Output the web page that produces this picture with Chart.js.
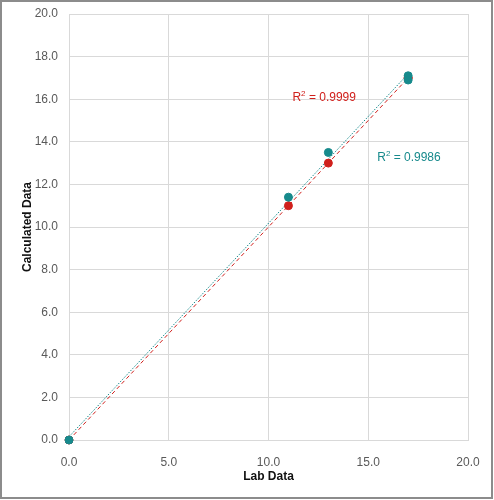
<!DOCTYPE html>
<html lang="en">

<head>
    <meta charset="UTF-8">
    <title>Lab Data vs Calculated Data</title>
    <style>
        body { margin: 0; background: #fff; }
        #wrap { width: 494px; height: 500px; }
    </style>
</head>

<body>
    <div id="wrap"><canvas id="myChart"></canvas></div>
    <script src="https://cdn.jsdelivr.net/npm/chart.js"></script>
    <script>
        // lab vs calculated values
        var labX = [0, 11, 13, 17, 17];
        var redY = [0, 11.0, 13.0, 17.0, 17.0];
        var tealY = [0, 11.4, 13.5, 17.1, 16.9];
        var redR2 = '0.9999';
        var tealR2 = '0.9986';
        var xTicks = [0, 5, 10, 15, 20];
        var yTicks = [0, 2, 4, 6, 8, 10, 12, 14, 16, 18, 20];

        var RED = '#d0201c';
        var TEAL = '#178a8c';

        function toPoints(xs, ys) {
            return xs.map(function (x, i) { return { x: x, y: ys[i] }; });
        }

        // least squares trendline, drawn from 0 to the last lab value
        function trend(xs, ys) {
            var n = xs.length, sx = 0, sy = 0, sxy = 0, sxx = 0;
            for (var i = 0; i < n; i++) {
                sx += xs[i]; sy += ys[i]; sxy += xs[i] * ys[i]; sxx += xs[i] * xs[i];
            }
            var m = (n * sxy - sx * sy) / (n * sxx - sx * sx);
            var b = (sy - m * sx) / n;
            var x1 = Math.max.apply(null, xs);
            return [{ x: 0, y: b }, { x: x1, y: m * x1 + b }];
        }

        // R² labels + outer frame
        var extras = {
            id: 'extras',
            afterDraw: function (chart) {
                var ctx = chart.ctx;
                var xs = chart.scales.x, ys = chart.scales.y;
                function r2(text, dx, dy, color) {
                    var px = xs.getPixelForValue(dx), py = ys.getPixelForValue(dy);
                    ctx.save();
                    ctx.fillStyle = color;
                    ctx.textBaseline = 'middle';
                    ctx.font = '12px "Liberation Sans"';
                    ctx.fillText('R', px, py);
                    var w = ctx.measureText('R').width;
                    ctx.font = '8px "Liberation Sans"';
                    ctx.fillText('2', px + w, py - 4);
                    var w2 = ctx.measureText('2').width;
                    ctx.font = '12px "Liberation Sans"';
                    ctx.fillText(' = ' + text, px + w + w2, py);
                    ctx.restore();
                }
                r2(redR2, 11.2, 16.05, RED);
                r2(tealR2, 15.45, 13.25, TEAL);

                ctx.save();
                ctx.strokeStyle = '#8c8c8c';
                ctx.lineWidth = 2;
                ctx.strokeRect(1, 1, 491, 497);
                ctx.restore();
            }
        };

        var ctx01 = document.getElementById('myChart');
        var mychart = new Chart(ctx01, {
            type: 'scatter',
            data: {
                datasets: [{
                    label: 'red trend',
                    type: 'line',
                    order: 3,
                    data: trend(labX, redY),
                    borderColor: RED,
                    borderWidth: 1,
                    borderDash: [4, 3],
                    pointRadius: 0,
                    fill: false
                }, {
                    label: 'teal trend',
                    type: 'line',
                    order: 2,
                    data: trend(labX, tealY),
                    borderColor: TEAL,
                    borderWidth: 1,
                    borderDash: [1.5, 1.5],
                    pointRadius: 0,
                    fill: false
                }, {
                    label: 'red',
                    order: 1,
                    clip: false,
                    data: toPoints(labX, redY),
                    backgroundColor: RED,
                    borderColor: RED,
                    pointRadius: 4
                }, {
                    label: 'teal',
                    order: 0,
                    clip: false,
                    data: toPoints(labX, tealY),
                    backgroundColor: TEAL,
                    borderColor: TEAL,
                    pointRadius: 4
                }]
            },
            options: {
                responsive: true,
                maintainAspectRatio: false,
                animation: false,
                layout: { padding: { left: 0, right: 26, top: 14, bottom: 0 } },
                plugins: {
                    legend: { display: false },
                    tooltip: { enabled: false }
                },
                scales: {
                    x: {
                        type: 'linear',
                        min: 0,
                        max: 20,
                        afterBuildTicks: function (s) { s.ticks = xTicks.map(function (v) { return { value: v }; }); },
                        afterFit: function (s) { s.height = 60; s.paddingLeft = 0; s.paddingRight = 0; },
                        ticks: {
                            color: '#595959',
                            font: { family: 'Liberation Sans', size: 12 },
                            padding: 15,
                            maxRotation: 0,
                            callback: function (v) { return v.toFixed(1); }
                        },
                        grid: { color: '#d9d9d9', drawTicks: false },
                        border: { color: '#d9d9d9' },
                        title: {
                            display: true,
                            text: 'Lab Data',
                            color: '#111',
                            font: { family: 'Liberation Sans', size: 12, weight: 'bold' },
                            padding: { top: 0, bottom: 16 }
                        }
                    },
                    y: {
                        type: 'linear',
                        min: 0,
                        max: 20,
                        afterBuildTicks: function (s) { s.ticks = yTicks.map(function (v) { return { value: v }; }); },
                        afterFit: function (s) { s.width = 69; s.paddingTop = 0; s.paddingBottom = 0; },
                        ticks: {
                            color: '#595959',
                            font: { family: 'Liberation Sans', size: 12 },
                            padding: 11,
                            callback: function (v) { return v.toFixed(1); }
                        },
                        grid: { color: '#d9d9d9', drawTicks: false },
                        border: { color: '#d9d9d9' },
                        title: {
                            display: true,
                            text: 'Calculated Data',
                            color: '#111',
                            font: { family: 'Liberation Sans', size: 12, weight: 'bold' },
                            padding: { top: 20, bottom: 0 }
                        }
                    }
                }
            },
            plugins: [extras]
        });
    </script>
</body>

</html>
